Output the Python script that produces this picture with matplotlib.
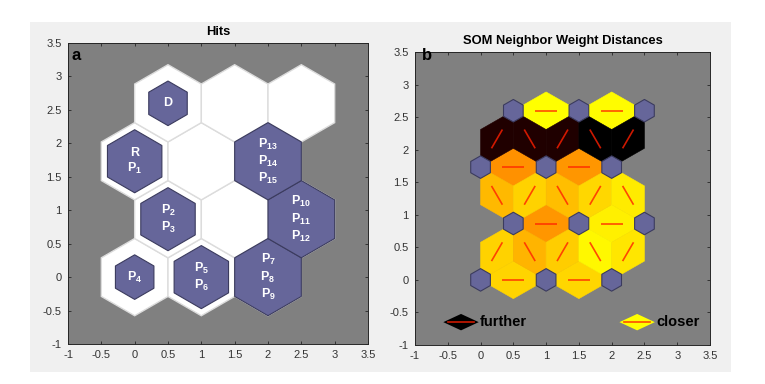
import numpy as np
import matplotlib
matplotlib.use('Agg')
import matplotlib.pyplot as plt
from matplotlib.patches import RegularPolygon, Polygon, Rectangle
from matplotlib.ticker import FuncFormatter

plt.rcParams['font.family'] = ['Liberation Sans', 'DejaVu Sans']
plt.rcParams['mathtext.fontset'] = 'custom'
plt.rcParams['mathtext.rm'] = 'Liberation Sans'
plt.rcParams['mathtext.bf'] = 'Liberation Sans:bold'
plt.rcParams['mathtext.it'] = 'Liberation Sans:italic'

# 3 x 4 hexagonal SOM, neurons numbered row by row from the bottom
grid_cols = 3
grid_rows = 4

hits = [1, 2, 3,
        2, 0, 3,
        2, 0, 3,
        1, 0, 0]
hit_labels = [['P4'], ['P5', 'P6'], ['P7', 'P8', 'P9'],
              ['P2', 'P3'], [], ['P10', 'P11', 'P12'],
              ['R', 'P1'], [], ['P13', 'P14', 'P15'],
              ['D'], [], []]

# neighbour pairs and normalised weight distance (0 = closest, 1 = furthest)
nd_pairs = [(0, 1), (1, 2), (3, 4), (4, 5), (6, 7), (7, 8), (9, 10), (10, 11),
            (0, 3), (1, 3), (1, 4), (2, 4), (2, 5),
            (3, 6), (3, 7), (4, 7), (4, 8), (5, 8),
            (6, 9), (7, 9), (7, 10), (8, 10), (8, 11)]
nd_dist = [0.084, 0.080, 0.206, 0.030, 0.216, 0.206, 0.000, 0.005,
           0.088, 0.147, 0.098, 0.014, 0.049,
           0.137, 0.088, 0.127, 0.078, 0.039,
           0.937, 0.937, 0.940, 1.000, 1.000]

legend_labels = ['further', 'closer']
legend_dist = [1.0, 0.0]

ticks = np.arange(-1, 3.51, 0.5)

NEURON_FC = '#66669a'
NEURON_EC = '#3b3b5e'
HEX_R = 1 / np.sqrt(3)


def hex_positions(cols, rows):
    pos = []
    for r in range(rows):
        for c in range(cols):
            pos.append((c + 0.5 * (r % 2), r * np.sqrt(0.75)))
    return np.array(pos)


def dist_color(d):
    lvl = 1 - d
    return (min(2 * lvl, 1), max(2 * lvl - 1, 0), 0)


def fmt_label(s):
    if s.startswith('P'):
        return r'$\mathbf{P}_{\mathbf{%s}}$' % s[1:]
    return s


def style_axes(ax):
    ax.set_facecolor('#808080')
    ax.set_xlim(-1, 3.5)
    ax.set_ylim(-1, 3.5)
    ax.set_xticks(ticks)
    ax.set_yticks(ticks)
    fmt = FuncFormatter(lambda v, p: '%g' % v)
    ax.xaxis.set_major_formatter(fmt)
    ax.yaxis.set_major_formatter(fmt)
    ax.tick_params(direction='in', length=2.5, width=0.6, top=True, right=True,
                   labelsize=8, color='#262626', labelcolor='#333333', pad=4.5)
    for s in ax.spines.values():
        s.set_color('#262626')
        s.set_linewidth(0.7)


pos = hex_positions(grid_cols, grid_rows)
max_hits = max(hits)

fig = plt.figure(figsize=(7.65, 3.84), dpi=100, facecolor='white')
fig.add_artist(Rectangle((30 / 765, 12 / 384), 701 / 765, 350 / 384,
                         transform=fig.transFigure, fc='#f0f0f0', ec='none', zorder=-1))

# ---- a: hits
ax1 = fig.add_axes([68 / 765, 40 / 384, 300 / 765, 301 / 384])
style_axes(ax1)
for (x, y) in pos:
    ax1.add_patch(RegularPolygon((x, y), 6, radius=HEX_R, orientation=0,
                                 fc='white', ec='#dcdcdc', lw=1.0, zorder=1))
for (x, y), h, labs in zip(pos, hits, hit_labels):
    if h > 0:
        ax1.add_patch(RegularPolygon((x, y), 6, radius=HEX_R * np.sqrt(h / max_hits),
                                     orientation=0, fc=NEURON_FC, ec=NEURON_EC,
                                     lw=0.8, zorder=2))
    if labs:
        ax1.text(x, y, '\n'.join(fmt_label(l) for l in labs), ha='center', va='center',
                 color='white', fontsize=9, fontweight='bold', linespacing=1.2, zorder=3)
ax1.set_title('Hits', fontsize=9.3, fontweight='bold', pad=6)
ax1.text(0.013, 0.944, 'a', transform=ax1.transAxes, fontsize=12, fontweight='bold', zorder=4)

# ---- b: neighbour weight distances
ax2 = fig.add_axes([415 / 765, 39 / 384, 295 / 765, 293 / 384])
style_axes(ax2)
half_h = 0.5 / np.sqrt(3)
for (i, j), d in zip(nd_pairs, nd_dist):
    pi, pj = pos[i], pos[j]
    mid = (pi + pj) / 2
    u = (pj - pi) / 2
    n = np.array([-u[1], u[0]]) / np.linalg.norm(u) * half_h
    col = dist_color(d)
    ax2.add_patch(Polygon([pi, mid + n, pj, mid - n], closed=True, fc=col, ec=col,
                          lw=0.4, zorder=1))
    p1 = (2 * pi + pj) / 3
    p2 = (pi + 2 * pj) / 3
    ax2.plot([p1[0], p2[0]], [p1[1], p2[1]], color=(1, 0.12, 0), alpha=0.8, lw=1.2,
             solid_capstyle='butt', zorder=2)
for (x, y) in pos:
    ax2.add_patch(RegularPolygon((x, y), 6, radius=HEX_R * 0.3, orientation=0,
                                 fc=NEURON_FC, ec=NEURON_EC, lw=0.8, zorder=3))

# legend keys
for xc, lab, d in zip([0.156, 0.753], legend_labels, legend_dist):
    col = dist_color(d)
    yc = 0.078
    ax2.add_patch(Polygon([(xc - 0.06, yc), (xc, yc + 0.028), (xc + 0.06, yc), (xc, yc - 0.028)],
                          closed=True, transform=ax2.transAxes, fc=col, ec='none', zorder=4))
    ax2.plot([xc - 0.045, xc + 0.045], [yc, yc], transform=ax2.transAxes,
             color=(1, 0.12, 0), alpha=0.8, lw=1.2, zorder=5)
    ax2.text(xc + 0.064, yc, lab, transform=ax2.transAxes, fontsize=10.5, va='center',
             ha='left', color='black', fontweight='bold', zorder=5)

ax2.set_title('SOM Neighbor Weight Distances', fontsize=9.3, fontweight='bold', pad=6)
ax2.text(0.024, 0.973, 'b', transform=ax2.transAxes, fontsize=12, fontweight='bold', zorder=6)

fig.savefig('out.png', dpi=100, facecolor=fig.get_facecolor())
